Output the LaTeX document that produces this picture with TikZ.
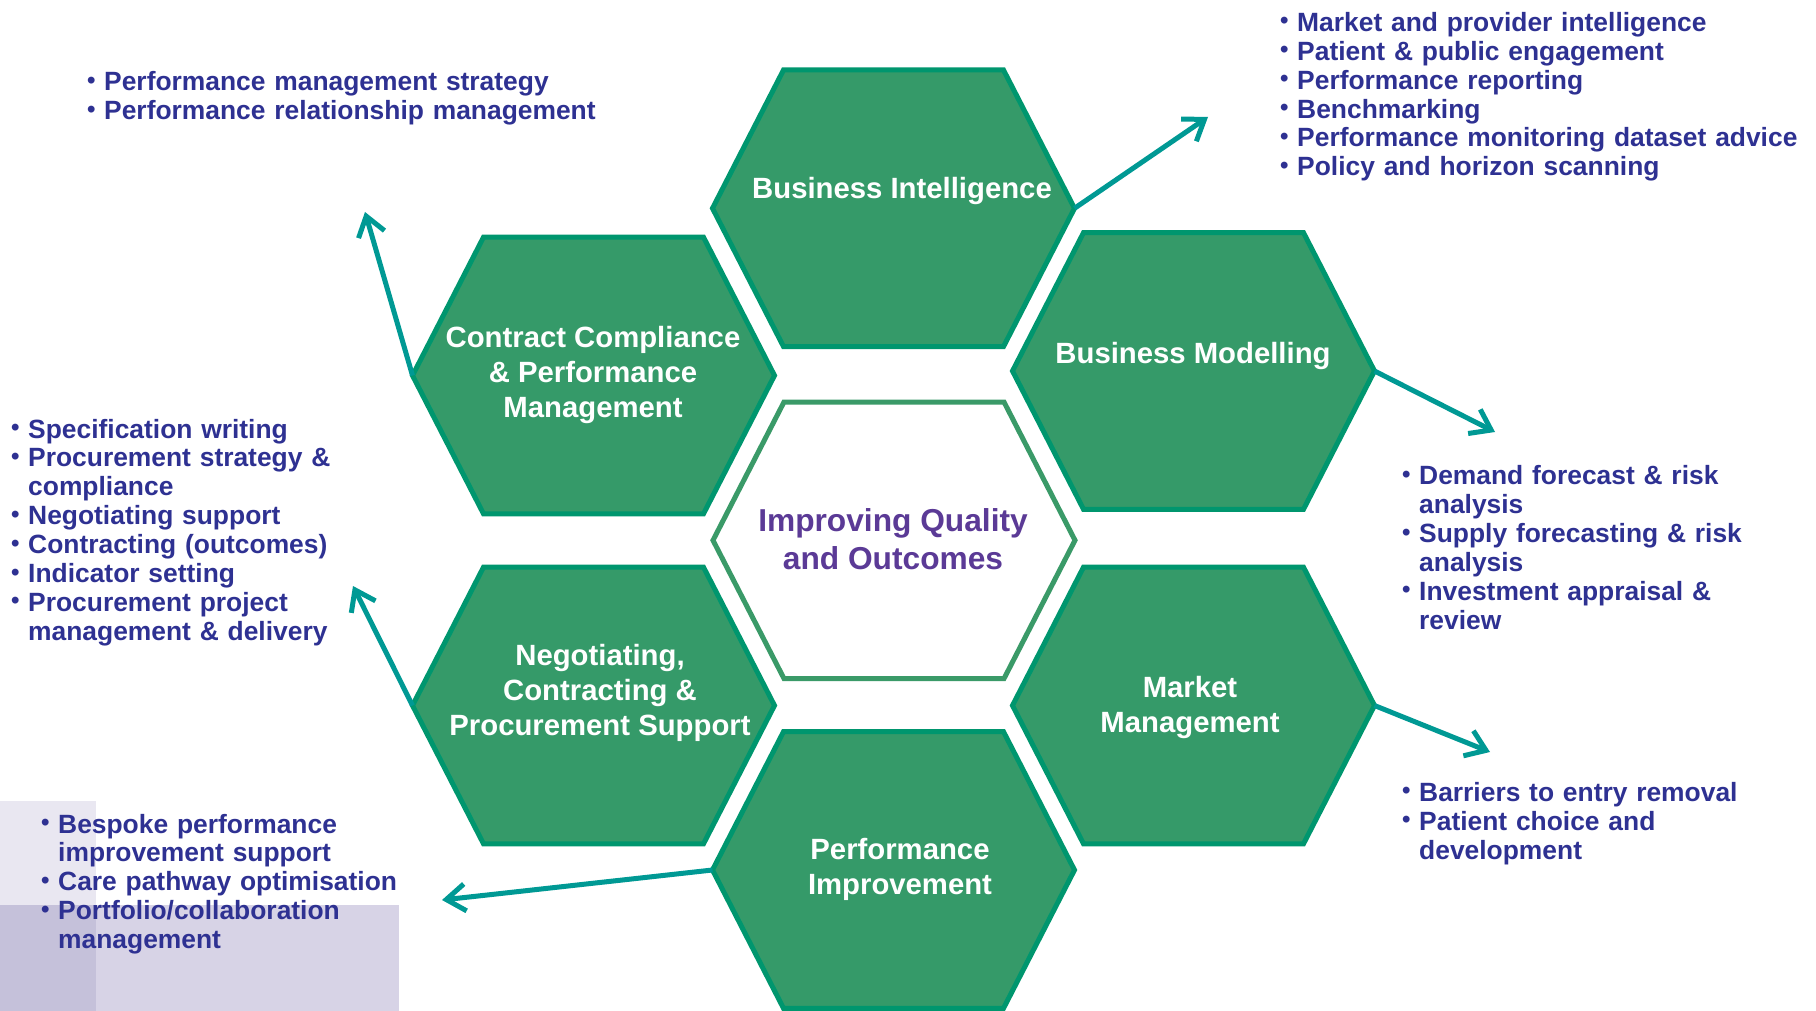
\documentclass[tikz,border=0pt]{standalone}
\usepackage{fontspec}
\setmainfont{Liberation Sans}
\usetikzlibrary{arrows.meta}
\definecolor{hexfill}{HTML}{359A69}
\definecolor{hexline}{HTML}{00966E}
\definecolor{midline}{HTML}{3A9A68}
\definecolor{arrowc}{HTML}{009994}
\definecolor{txtblue}{HTML}{2E3192}
\definecolor{txtpurple}{HTML}{5B3A96}
\definecolor{bgA}{HTML}{E9E7F1}
\definecolor{bgB}{HTML}{D7D3E6}
\definecolor{bgAB}{HTML}{C5C1DA}
\newcommand\myitem{\par\noindent\hangindent=17pt\hangafter=1\makebox[17pt][l]{\raisebox{2.5pt}{\fontsize{24}{24}\selectfont •}}\strut}
\newcommand\hexcell[4]{%
  \begin{scope}[shift={(#2,#3)}]
    \draw[#4] (-181,0) coordinate (#1-l) -- (-110,-138.3) -- (110,-138.3) -- (181,0) coordinate (#1-r) -- (110,138.3) -- (-110,138.3) -- cycle;
  \end{scope}}
\tikzset{
  greenhex/.style={fill=hexfill, draw=hexline, line width=5pt, line join=miter},
  whitehex/.style={fill=white, draw=midline, line width=5pt, line join=miter},
  hextext/.style={text=white, align=center, inner sep=0pt, font=\fontsize{29.3}{35}\selectfont\bfseries},
  midtext/.style={text=txtpurple, align=center, inner sep=0pt, font=\fontsize{31.7}{38}\selectfont\bfseries},
  bullist/.style={anchor=north west, inner sep=0pt, text width=560pt, align=left, text=txtblue, font=\fontsize{26.4}{28.9}\selectfont\bfseries},
  arr/.style={draw=arrowc, line width=5pt, -{Straight Barb[length=19pt,width=27pt]}}
}
\begin{document}
\begin{tikzpicture}[x=1pt,y=-1pt]
\useasboundingbox (0,0) rectangle (1816,1011);
% background panels
\fill[bgA] (0,801) rectangle (96,1011);
\fill[bgB] (0,905) rectangle (399,1011);
\fill[bgAB] (0,905) rectangle (96,1011);
% hexagons
\hexcell{bi}{893.5}{208.3}{greenhex}
\hexcell{bm}{1193.5}{371}{greenhex}
\hexcell{cc}{593.5}{375.5}{greenhex}
\hexcell{ce}{894}{540.3}{whitehex}
\hexcell{nc}{593.5}{705.5}{greenhex}
\hexcell{mm}{1193.5}{705.5}{greenhex}
\hexcell{pi}{893.5}{870}{greenhex}
% hexagon labels
\node[hextext] (bit) at (902,191) {Business Intelligence};
\node[hextext] (bmt) at (1193,356) {Business Modelling};
\node[hextext] (cct) at (593,375) {Contract Compliance\\\& Performance\\Management};
\node[midtext] (cet) at (893,539) {Improving Quality\\and Outcomes};
\node[hextext] (nct) at (600,693) {Negotiating,\\Contracting \&\\Procurement Support};
\node[hextext] (mmt) at (1190,707.5) {Market\\Management};
\node[hextext] (pit) at (900,869.5) {Performance\\Improvement};
% arrow end points
\coordinate (biEnd) at (1208,117);
\coordinate (bmEnd) at (1495,432);
\coordinate (ccEnd) at (365,212);
\coordinate (ncEnd) at (353,586);
\coordinate (mmEnd) at (1490,752);
\coordinate (piEnd) at (442,900);
\draw[arr] (bi-r) -- (biEnd);
\draw[arr] (bm-r) -- (bmEnd);
\draw[arr] (cc-l) -- (ccEnd);
\draw[arr] (nc-l) -- (ncEnd);
\draw[arr] (mm-r) -- (mmEnd);
\draw[arr] (pi-l) -- (piEnd);
% bullet lists
\node[bullist] (tl) at (87,61.7) {\myitem Performance management strategy
\myitem Performance relationship management\par};
\node[bullist] (tr) at (1280,2.3) {\myitem Market and provider intelligence
\myitem Patient \& public engagement
\myitem Performance reporting
\myitem Benchmarking
\myitem Performance monitoring dataset advice
\myitem Policy and horizon scanning\par};
\node[bullist] (lm) at (11,408.9) {\myitem Specification writing
\myitem Procurement strategy \&\newline compliance
\myitem Negotiating support
\myitem Contracting (outcomes)
\myitem Indicator setting
\myitem Procurement project\newline management \& delivery\par};
\node[bullist] (rm) at (1402,455.6) {\myitem Demand forecast \& risk\newline analysis
\myitem Supply forecasting \& risk\newline analysis
\myitem Investment appraisal \&\newline review\par};
\node[bullist] (rl) at (1402,772.3) {\myitem Barriers to entry removal
\myitem Patient choice and\newline development\par};
\node[bullist] (bl) at (41,803.9) {\myitem Bespoke performance\newline improvement support
\myitem Care pathway optimisation
\myitem Portfolio/collaboration\newline management\par};
\end{tikzpicture}
\end{document}
